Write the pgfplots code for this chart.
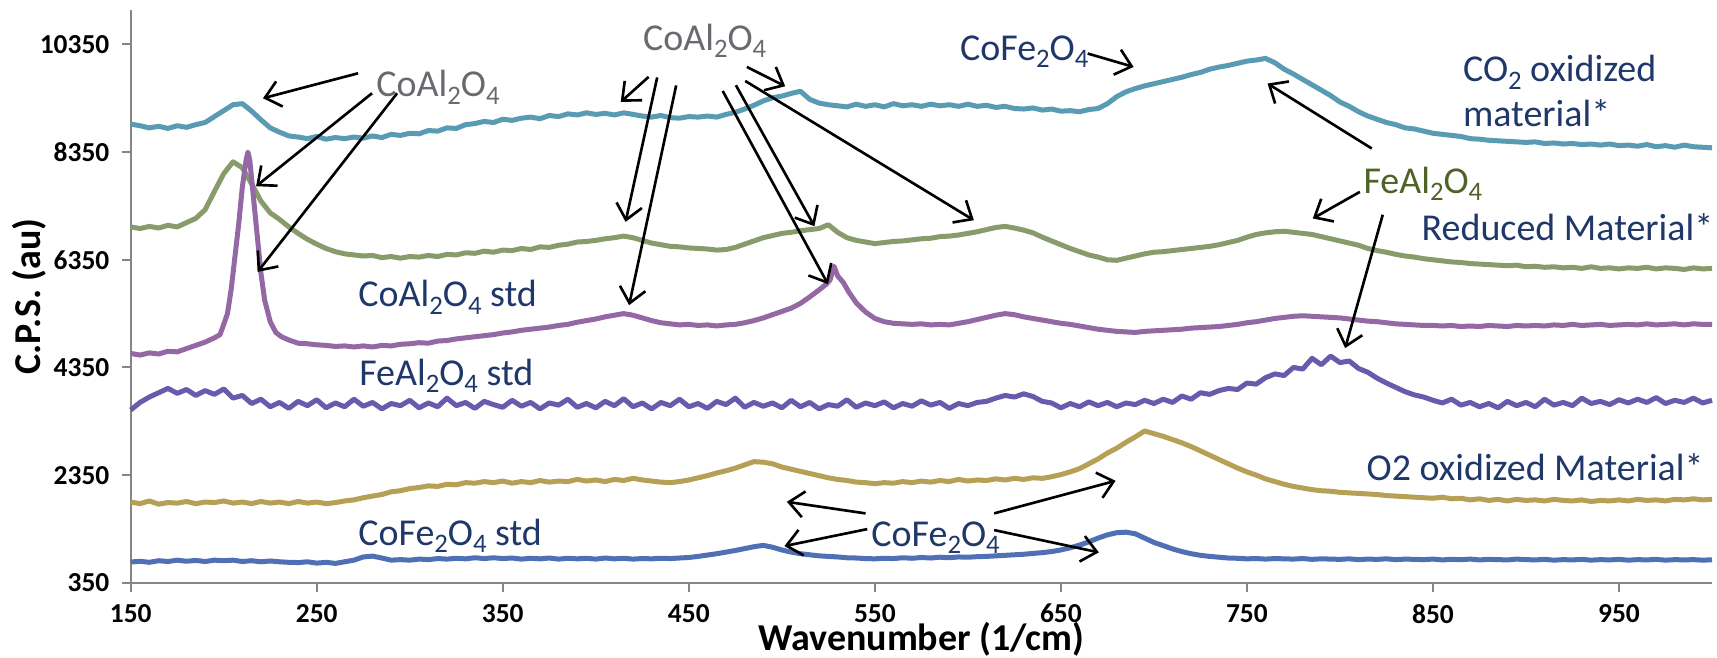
\documentclass[border=0pt]{standalone}
\usepackage{pgfplots}
\pgfplotsset{compat=1.18}
\usepackage{pgfplotstable}
\usepackage{fontspec}
\setmainfont{Carlito}
\usetikzlibrary{arrows.meta}
\definecolor{cteal}{RGB}{88,155,178}
\definecolor{cgreen}{RGB}{135,155,107}
\definecolor{cpink}{RGB}{148,103,165}
\definecolor{cviolet}{RGB}{107,89,173}
\definecolor{cgold}{RGB}{182,160,86}
\definecolor{cblue}{RGB}{80,112,182}
\definecolor{navy}{RGB}{31,56,105}
\definecolor{olive}{RGB}{79,98,40}
\definecolor{lgray}{RGB}{105,105,112}
\definecolor{axgray}{RGB}{134,134,134}

\pgfplotstableread{
x co2 red feal o2 cofe
150 8870 6960 3560 1850 735
155 8840 6930 3700 1820 750
160 8800 6970 3800 1870 730
165 8830 6940 3880 1810 760
170 8790 6990 3960 1840 745
175 8840 6960 3870 1830 770
180 8810 7040 3940 1860 750
185 8860 7120 3830 1820 765
190 8900 7280 3920 1850 745
195 9010 7620 3850 1840 770
200 9120 7950 3950 1870 760
205 9230 8170 3780 1830 770
210 9250 8060 3830 1850 745
215 9110 7760 3680 1820 760
220 8950 7440 3760 1860 740
225 8800 7220 3620 1830 755
230 8720 7100 3700 1850 740
235 8650 6960 3590 1820 730
240 8630 6840 3720 1860 725
245 8600 6730 3640 1830 740
250 8640 6640 3750 1850 715
255 8590 6560 3600 1820 730
260 8620 6500 3690 1840 710
265 8600 6460 3620 1870 740
270 8630 6440 3760 1890 770
275 8610 6420 3630 1930 830
280 8650 6430 3700 1960 845
285 8620 6390 3580 1990 810
290 8680 6410 3680 2040 770
295 8660 6380 3640 2060 780
300 8700 6410 3740 2100 770
305 8690 6400 3600 2120 790
310 8750 6430 3690 2150 780
315 8740 6410 3620 2140 800
320 8800 6450 3780 2180 790
325 8790 6440 3640 2170 805
330 8860 6480 3700 2210 795
335 8880 6470 3590 2200 815
340 8920 6510 3720 2230 800
345 8900 6490 3660 2210 815
350 8960 6530 3610 2240 800
355 8940 6520 3740 2200 810
360 8980 6560 3630 2230 790
365 9000 6540 3700 2210 805
370 8970 6590 3580 2250 795
375 9030 6580 3690 2220 810
380 9010 6620 3650 2240 790
385 9060 6640 3760 2230 805
390 9040 6680 3610 2270 795
395 9080 6690 3680 2240 805
400 9050 6710 3600 2260 790
405 9070 6740 3720 2230 810
410 9040 6760 3640 2270 795
415 9080 6790 3770 2250 805
420 9050 6760 3620 2290 790
425 9020 6710 3690 2260 800
430 9000 6660 3580 2240 795
435 9030 6630 3700 2220 805
440 8990 6600 3640 2210 800
445 8980 6590 3760 2230 810
450 9010 6570 3620 2260 820
455 9000 6560 3680 2300 840
460 9020 6550 3590 2340 865
465 9000 6530 3720 2390 890
470 9050 6540 3660 2430 920
475 9090 6580 3780 2480 950
480 9150 6640 3610 2540 985
485 9220 6700 3700 2600 1020
490 9300 6760 3630 2590 1045
495 9360 6800 3690 2560 1010
500 9390 6840 3600 2500 960
505 9440 6860 3740 2460 920
510 9480 6890 3620 2420 890
515 9330 6910 3700 2380 870
520 9260 6930 3580 2340 850
525 9230 7000 3660 2300 840
530 9210 6860 3630 2270 830
535 9190 6760 3750 2250 815
540 9240 6710 3610 2220 810
545 9200 6680 3690 2210 800
550 9230 6650 3640 2190 795
555 9190 6670 3710 2210 805
560 9250 6690 3600 2200 800
565 9210 6700 3680 2230 815
570 9230 6720 3630 2210 805
575 9200 6740 3730 2240 820
580 9240 6750 3650 2220 810
585 9210 6780 3700 2250 825
590 9230 6790 3590 2230 815
595 9200 6810 3680 2270 830
600 9240 6840 3640 2240 825
605 9200 6870 3700 2260 835
610 9220 6910 3720 2250 840
615 9180 6950 3780 2280 850
620 9200 6970 3830 2260 860
625 9160 6940 3800 2290 870
630 9150 6900 3860 2270 880
635 9170 6850 3810 2300 895
640 9130 6770 3720 2290 910
645 9150 6700 3690 2320 930
650 9110 6630 3600 2360 960
655 9120 6560 3680 2410 1000
660 9100 6500 3620 2470 1050
665 9140 6440 3710 2560 1110
670 9160 6400 3640 2650 1180
675 9250 6350 3700 2760 1240
680 9380 6340 3620 2850 1280
685 9470 6380 3690 2960 1290
690 9530 6420 3660 3060 1260
695 9580 6460 3740 3170 1180
700 9620 6490 3680 3120 1100
705 9660 6500 3760 3070 1040
710 9700 6520 3700 3010 980
715 9740 6540 3820 2950 930
720 9790 6560 3760 2880 890
725 9830 6580 3880 2800 860
730 9890 6600 3850 2720 840
735 9930 6630 3920 2640 825
740 9960 6670 3960 2560 810
745 10000 6710 3940 2480 805
750 10040 6770 4060 2410 795
755 10060 6820 4040 2350 800
760 10090 6850 4160 2280 790
765 10010 6870 4230 2230 800
770 9890 6880 4200 2180 795
775 9800 6860 4350 2140 790
780 9700 6840 4320 2110 800
785 9600 6820 4520 2080 785
790 9500 6780 4400 2060 795
795 9400 6740 4560 2050 790
800 9280 6700 4440 2030 785
805 9200 6660 4470 2020 795
810 9100 6620 4330 2010 780
815 9020 6560 4260 2000 790
820 8960 6520 4150 1990 785
825 8900 6490 4060 1970 795
830 8860 6450 3980 1960 780
835 8800 6420 3900 1950 790
840 8780 6400 3840 1940 785
845 8740 6370 3800 1930 780
850 8700 6350 3740 1920 790
855 8680 6330 3690 1940 775
860 8660 6310 3760 1910 785
865 8640 6300 3650 1920 780
870 8600 6280 3700 1890 790
875 8590 6270 3620 1910 775
880 8570 6260 3680 1880 785
885 8560 6250 3600 1900 780
890 8550 6240 3720 1870 775
895 8540 6250 3640 1900 790
900 8530 6220 3700 1880 780
905 8540 6230 3620 1890 775
910 8510 6210 3760 1870 785
915 8520 6220 3650 1900 770
920 8500 6200 3700 1880 780
925 8510 6210 3640 1870 775
930 8490 6190 3780 1890 785
935 8500 6220 3680 1860 770
940 8480 6190 3720 1880 780
945 8500 6200 3660 1870 775
950 8470 6180 3750 1890 785
955 8480 6200 3690 1870 770
960 8460 6190 3760 1900 780
965 8490 6210 3700 1880 775
970 8450 6180 3790 1890 785
975 8470 6200 3680 1870 770
980 8440 6190 3740 1900 780
985 8480 6170 3700 1890 775
990 8450 6200 3780 1910 780
995 8440 6180 3690 1890 770
1000 8430 6190 3740 1900 777
}\maintable

\pgfplotstableread{
x y
150 4610
155 4580
160 4620
165 4600
170 4650
175 4640
180 4700
185 4760
190 4820
195 4900
198 4960
200 5150
202 5350
204 5800
206 6400
208 7000
210 7700
212 8200
213 8350
214 8200
216 7500
218 6800
220 6100
222 5600
225 5200
228 5000
231 4920
235 4860
240 4800
245 4790
250 4770
255 4760
260 4740
265 4750
270 4730
275 4750
280 4730
285 4760
290 4750
295 4780
300 4790
305 4810
310 4800
315 4840
320 4850
325 4880
330 4900
335 4920
340 4940
345 4960
350 4990
355 5010
360 5040
365 5060
370 5080
375 5100
380 5130
385 5150
390 5190
395 5220
400 5250
405 5290
410 5320
415 5350
420 5320
425 5270
430 5220
435 5180
440 5160
445 5140
450 5150
455 5130
460 5140
465 5120
470 5140
475 5150
480 5180
485 5220
490 5270
495 5330
500 5390
505 5450
510 5540
515 5660
520 5790
524 5900
526 5980
528 6230
530 6050
533 5930
536 5750
540 5550
545 5380
550 5260
555 5200
560 5170
565 5160
570 5150
575 5160
580 5140
585 5150
590 5140
595 5170
600 5200
605 5240
610 5280
615 5320
620 5350
625 5330
630 5290
635 5260
640 5230
645 5200
650 5170
655 5150
660 5120
665 5090
670 5060
675 5040
680 5020
685 5010
690 5000
695 5020
700 5030
705 5040
710 5050
715 5060
720 5080
725 5090
730 5100
735 5110
740 5130
745 5150
750 5180
755 5200
760 5230
765 5260
770 5280
775 5300
780 5310
785 5300
790 5290
795 5280
800 5270
805 5250
810 5230
815 5210
820 5200
825 5180
830 5160
835 5150
840 5140
845 5130
850 5130
855 5120
860 5130
865 5110
870 5120
875 5110
880 5130
885 5120
890 5110
895 5130
900 5120
905 5130
910 5120
915 5140
920 5130
925 5150
930 5130
935 5140
940 5150
945 5130
950 5140
955 5150
960 5140
965 5160
970 5140
975 5150
980 5160
985 5140
990 5160
995 5150
1000 5150
}\coaltable

\newcommand{\chemsub}[1]{\raisebox{-0.4ex}{\fontsize{7.6}{8}\selectfont #1}}

\tikzset{
  ann/.style={font=\fontsize{10.8}{13}\selectfont, inner sep=0pt},
  arr/.style={draw=black, line width=0.75pt, -{Straight Barb[length=1.5mm,width=2.6mm]}},
}

\begin{document}
\begin{tikzpicture}
\begin{axis}[
  scale only axis,
  width=158.1mm, height=57.27mm,
  xmin=150, xmax=1000, ymin=350, ymax=10990,
  axis x line*=bottom, axis y line*=left,
  axis line style={draw=axgray, line width=0.6pt},
  xtick={150,250,350,450,550,650,750,850,950},
  xticklabels={150,250,350,450,550,650,750,850,950},
  ytick={350,2350,4350,6350,8350,10350},
  yticklabels={350,2350,4350,6350,8350,10350},
  tick align=outside,
  major tick length=0.9mm,
  tick style={draw=axgray, line width=0.6pt},
  ticklabel style={font=\bfseries\fontsize{7.8}{9}\selectfont, text=black},
  xlabel={Wavenumber (1/cm)},
  ylabel={C.P.S. (au)},
  every axis x label/.style={at={(axis description cs:0.5,0)}, yshift=-5.6mm, anchor=center, font=\bfseries\fontsize{10.8}{12}\selectfont},
  every axis y label/.style={at={(axis description cs:0,0.5)}, xshift=-10.1mm, rotate=90, anchor=center, font=\bfseries\fontsize{10.8}{12}\selectfont},
  clip=false,
  every axis plot/.append style={line width=0.5mm, line join=round, no marks},
]
\addplot[cteal] table[x=x,y=co2] {\maintable};
\addplot[cgreen] table[x=x,y=red] {\maintable};
\addplot[cpink] table[x=x,y=y] {\coaltable};
\addplot[cviolet] table[x=x,y=feal] {\maintable};
\addplot[cgold] table[x=x,y=o2] {\maintable};
\addplot[cblue] table[x=x,y=cofe] {\maintable};

% labels
\node[ann, text=lgray, anchor=base] at (axis cs:315.2,9375) {CoAl\chemsub{2}O\chemsub{4}};
\node[ann, text=lgray, anchor=base] at (axis cs:458.5,10242) {CoAl\chemsub{2}O\chemsub{4}};
\node[ann, text=navy, anchor=base] at (axis cs:630.3,10056) {CoFe\chemsub{2}O\chemsub{4}};
\node[ann, text=navy, anchor=base west] at (axis cs:865.8,9653) {CO\chemsub{2} oxidized};
\node[ann, text=navy, anchor=base west] at (axis cs:865.8,8831) {material*};
\node[ann, text=olive, anchor=base] at (axis cs:844.6,7581) {FeAl\chemsub{2}O\chemsub{4}};
\node[ann, text=navy, anchor=base east] at (axis cs:1001,6701) {Reduced Material*};
\node[ann, text=navy, anchor=base west] at (axis cs:272,5475) {CoAl\chemsub{2}O\chemsub{4} std};
\node[ann, text=navy, anchor=base west] at (axis cs:272.5,4021) {FeAl\chemsub{2}O\chemsub{4} std};
\node[ann, text=navy, anchor=base west] at (axis cs:272,1050) {CoFe\chemsub{2}O\chemsub{4} std};
\node[ann, text=navy, anchor=base west] at (axis cs:814,2244) {O2 oxidized Material*};
\node[ann, text=navy, anchor=base west] at (axis cs:547.8,1031) {CoFe\chemsub{2}O\chemsub{4}};

% arrows
\draw[arr] (axis cs:272.2,9814) -- (axis cs:221.1,9350);
\draw[arr] (axis cs:279.7,9443) -- (axis cs:217.4,7716);
\draw[arr] (axis cs:293.2,9443) -- (axis cs:218.2,6125);
\draw[arr] (axis cs:428.4,9747) -- (axis cs:413.4,9282);
\draw[arr] (axis cs:433,9737) -- (axis cs:416,7054);
\draw[arr] (axis cs:443.2,9589) -- (axis cs:417.9,5507);
\draw[arr] (axis cs:481.2,9932) -- (axis cs:501.8,9573);
\draw[arr] (axis cs:468.2,9486) -- (axis cs:524.8,5897);
\draw[arr] (axis cs:475.3,9592) -- (axis cs:517.5,6974);
\draw[arr] (axis cs:480.3,9672) -- (axis cs:603.2,7085);
\draw[arr] (axis cs:664.4,10181) -- (axis cs:689.1,9932);
\draw[arr] (axis cs:817.1,8417) -- (axis cs:761.1,9624);
\draw[arr] (axis cs:810.7,7611) -- (axis cs:785.4,7117);
\draw[arr] (axis cs:823,7186) -- (axis cs:802.8,4709);
\draw[arr] (axis cs:545,1639) -- (axis cs:502.7,1854);
\draw[arr] (axis cs:545.9,1347) -- (axis cs:501.4,1032);
\draw[arr] (axis cs:614.1,1639) -- (axis cs:679.4,2244);
\draw[arr] (axis cs:614.1,1329) -- (axis cs:670.4,915);
\end{axis}
\pgfresetboundingbox
\path[use as bounding box] ([shift={(-13.07mm,-7.43mm)}]current axis.south west) rectangle ([shift={(0.5mm,1mm)}]current axis.north east);
\end{tikzpicture}
\end{document}
